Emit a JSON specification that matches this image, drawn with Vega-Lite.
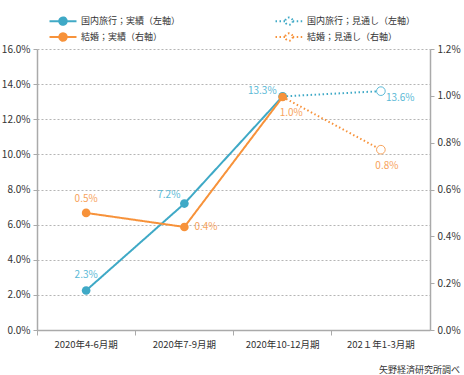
{
  "$schema": "https://vega.github.io/schema/vega-lite/v6.json",
  "width": 393,
  "height": 281,
  "autosize": {"type": "none"},
  "padding": {"left": 37, "top": 49, "right": 34, "bottom": 45},
  "background": "white",
  "config": {
    "font": "Noto Sans CJK JP",
    "view": {"stroke": null}
  },
  "title": {
    "text": "矢野経済研究所調べ",
    "orient": "bottom",
    "anchor": "end",
    "frame": "bounds",
    "fontSize": 9,
    "fontWeight": "normal",
    "color": "#333333",
    "offset": 17
  },
  "data": {
    "values": [
      {"s": "国内旅行；実績（左軸）", "m": "travel", "k": "actual", "q": "2020年4-6月期", "v": 2.25, "t": "2.3%"},
      {"s": "国内旅行；実績（左軸）", "m": "travel", "k": "actual", "q": "2020年7-9月期", "v": 7.2, "t": "7.2%"},
      {"s": "国内旅行；実績（左軸）", "m": "travel", "k": "actual", "q": "2020年10-12月期", "v": 13.3, "t": "13.3%"},
      {"s": "国内旅行；見通し（左軸）", "m": "travel", "k": "forecast", "q": "2020年10-12月期", "v": 13.3, "t": ""},
      {"s": "国内旅行；見通し（左軸）", "m": "travel", "k": "forecast", "q": "202１年1-3月期", "v": 13.6, "t": "13.6%"},
      {"s": "結婚；実績（右軸）", "m": "marriage", "k": "actual", "q": "2020年4-6月期", "v": 0.5, "t": "0.5%"},
      {"s": "結婚；実績（右軸）", "m": "marriage", "k": "actual", "q": "2020年7-9月期", "v": 0.44, "t": "0.4%"},
      {"s": "結婚；実績（右軸）", "m": "marriage", "k": "actual", "q": "2020年10-12月期", "v": 0.995, "t": "1.0%"},
      {"s": "結婚；見通し（右軸）", "m": "marriage", "k": "forecast", "q": "2020年10-12月期", "v": 0.995, "t": ""},
      {"s": "結婚；見通し（右軸）", "m": "marriage", "k": "forecast", "q": "202１年1-3月期", "v": 0.77, "t": "0.8%"}
    ]
  },
  "encoding": {
    "x": {
      "field": "q",
      "type": "ordinal",
      "sort": ["2020年4-6月期", "2020年7-9月期", "2020年10-12月期", "202１年1-3月期"],
      "scale": {"type": "band", "paddingInner": 0, "paddingOuter": 0},
      "axis": {
        "title": null,
        "labelAngle": 0,
        "labelFontSize": 9.5,
        "labelColor": "#333333",
        "labelPadding": 4,
        "domainColor": "#aaaaaa",
        "domainWidth": 1.5,
        "tickColor": "#aaaaaa",
        "tickSize": 5,
        "bandPosition": 0,
        "grid": false
      }
    }
  },
  "layer": [
    {
      "transform": [{"filter": "datum.m == 'travel'"}],
      "encoding": {
        "y": {
          "field": "v",
          "type": "quantitative",
          "scale": {"domain": [0, 16], "nice": false},
          "axis": {
            "orient": "left",
            "title": null,
            "values": [0, 2, 4, 6, 8, 10, 12, 14, 16],
            "format": ".1f",
            "labelExpr": "datum.label + '%'",
            "labelFontSize": 10,
            "labelColor": "#333333",
            "labelPadding": 3,
            "domainColor": "#aaaaaa",
            "domainWidth": 1.5,
            "tickColor": "#aaaaaa",
            "tickSize": 4,
            "grid": true,
            "gridColor": "#b5b5b5",
            "gridDash": [2, 2],
            "gridWidth": 1
          }
        }
      },
      "layer": [
        {
          "mark": {"type": "line", "strokeWidth": 2},
          "encoding": {
            "color": {
              "field": "s",
              "type": "nominal",
              "scale": {
                "domain": ["国内旅行；実績（左軸）", "結婚；実績（右軸）", "国内旅行；見通し（左軸）", "結婚；見通し（右軸）"],
                "range": ["#3fa9c6", "#f7923a", "#3fa9c6", "#f7923a"]
              },
              "legend": {
                "title": null,
                "orient": "none",
                "legendX": 18,
                "legendY": -36,
                "columns": 2,
                "columnPadding": 90,
                "rowPadding": 0,
                "symbolType": "M-2,0L-0.55,0M0.55,0L2,0M0.55,0A0.55,0.55,0,1,1,-0.55,0A0.55,0.55,0,1,1,0.55,0Z",
                "symbolSize": 182,
                "symbolStrokeWidth": 2,
                "labelFontSize": 9,
                "labelColor": "#333333",
                "labelOffset": 10,
                "encode": {
                  "symbols": {
                    "update": {
                      "fill": [
                        {"test": "indexof(datum.value, '見通し') >= 0", "value": "#ffffff"},
                        {"test": "indexof(datum.value, '国内') >= 0", "value": "#3fa9c6"},
                        {"value": "#f7923a"}
                      ]
                    }
                  }
                }
              }
            },
            "strokeDash": {
              "field": "s",
              "type": "nominal",
              "scale": {
                "domain": ["国内旅行；実績（左軸）", "結婚；実績（右軸）", "国内旅行；見通し（左軸）", "結婚；見通し（右軸）"],
                "range": [[1, 0], [1, 0], [1.5, 2.5], [1.5, 2.5]]
              }
            }
          }
        },
        {
          "transform": [{"filter": "datum.k == 'actual'"}],
          "mark": {"type": "point", "filled": true, "color": "#3fa9c6", "size": 75, "opacity": 1}
        },
        {
          "transform": [{"filter": "datum.k == 'forecast' && datum.t != ''"}],
          "mark": {"type": "point", "filled": true, "fill": "#ffffff", "stroke": "#5ab9d6", "strokeWidth": 1, "size": 75, "opacity": 1}
        },
        {
          "transform": [{"filter": "datum.q == '2020年4-6月期'"}],
          "mark": {"type": "text", "fontSize": 10, "color": "#5ab9d6", "align": "center", "baseline": "middle", "dy": -15},
          "encoding": {"text": {"field": "t"}}
        },
        {
          "transform": [{"filter": "datum.q == '2020年7-9月期'"}],
          "mark": {"type": "text", "fontSize": 10, "color": "#5ab9d6", "align": "right", "baseline": "middle", "dx": -4, "dy": -9},
          "encoding": {"text": {"field": "t"}}
        },
        {
          "transform": [{"filter": "datum.q == '2020年10-12月期' && datum.k == 'actual'"}],
          "mark": {"type": "text", "fontSize": 10, "color": "#5ab9d6", "align": "right", "baseline": "middle", "dx": -6, "dy": -5},
          "encoding": {"text": {"field": "t"}}
        },
        {
          "transform": [{"filter": "datum.q == '202１年1-3月期'"}],
          "mark": {"type": "text", "fontSize": 10, "color": "#5ab9d6", "align": "left", "baseline": "middle", "dx": 5, "dy": 7},
          "encoding": {"text": {"field": "t"}}
        }
      ]
    },
    {
      "transform": [{"filter": "datum.m == 'marriage'"}],
      "encoding": {
        "y": {
          "field": "v",
          "type": "quantitative",
          "scale": {"domain": [0, 1.2], "nice": false},
          "axis": {
            "orient": "right",
            "title": null,
            "values": [0, 0.2, 0.4, 0.6, 0.8, 1.0, 1.2],
            "format": ".1f",
            "labelExpr": "datum.label + '%'",
            "labelFontSize": 10,
            "labelColor": "#333333",
            "labelPadding": 3,
            "domainColor": "#aaaaaa",
            "domainWidth": 1.5,
            "tickColor": "#aaaaaa",
            "tickSize": 4,
            "grid": false
          }
        }
      },
      "layer": [
        {
          "mark": {"type": "line", "strokeWidth": 2},
          "encoding": {
            "color": {"field": "s", "type": "nominal"},
            "strokeDash": {"field": "s", "type": "nominal"}
          }
        },
        {
          "transform": [{"filter": "datum.k == 'actual'"}],
          "mark": {"type": "point", "filled": true, "color": "#f7923a", "size": 75, "opacity": 1}
        },
        {
          "transform": [{"filter": "datum.k == 'forecast' && datum.t != ''"}],
          "mark": {"type": "point", "filled": true, "fill": "#ffffff", "stroke": "#f7a35c", "strokeWidth": 1, "size": 75, "opacity": 1}
        },
        {
          "transform": [{"filter": "datum.q == '2020年4-6月期'"}],
          "mark": {"type": "text", "fontSize": 10, "color": "#f7a35c", "align": "center", "baseline": "middle", "dy": -14},
          "encoding": {"text": {"field": "t"}}
        },
        {
          "transform": [{"filter": "datum.q == '2020年7-9月期'"}],
          "mark": {"type": "text", "fontSize": 10, "color": "#f7a35c", "align": "left", "baseline": "middle", "dx": 10, "dy": 0},
          "encoding": {"text": {"field": "t"}}
        },
        {
          "transform": [{"filter": "datum.q == '2020年10-12月期' && datum.k == 'actual'"}],
          "mark": {"type": "text", "fontSize": 10, "color": "#f7a35c", "align": "left", "baseline": "middle", "dx": -3, "dy": 16},
          "encoding": {"text": {"field": "t"}}
        },
        {
          "transform": [{"filter": "datum.q == '202１年1-3月期'"}],
          "mark": {"type": "text", "fontSize": 10, "color": "#f7a35c", "align": "center", "baseline": "middle", "dx": 6, "dy": 16},
          "encoding": {"text": {"field": "t"}}
        }
      ]
    }
  ],
  "resolve": {"scale": {"y": "independent"}, "axis": {"y": "independent"}}
}
